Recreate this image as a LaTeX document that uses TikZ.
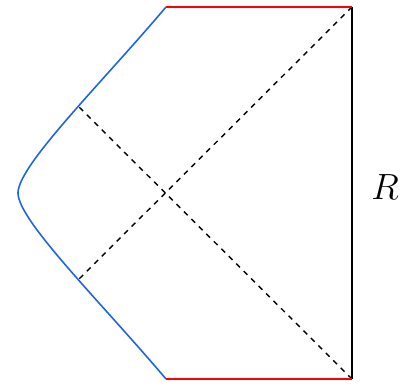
\documentclass[tikz,border=0pt]{standalone}
\usepackage{amsmath, amssymb}
\usepackage{tikz}
\usetikzlibrary{arrows.meta}

\definecolor{wallblue}{RGB}{30,100,230}

\begin{document}
\begin{tikzpicture}[
  scale=1.0,
  bdry/.style={draw, black, line width=0.9pt},
  sing/.style={draw, red, line width=0.9pt},
  wall/.style={draw, wallblue, line width=0.9pt},
  hor/.style={draw, black, dashed, line width=0.8pt}
]
  \useasboundingbox (-3.32,-3.82) rectangle (4.94,3.86);
  \coordinate (o) at (0,0);
  % corners of the diagram
  \coordinate (TL) at (0,3.72);
  \coordinate (TR) at (3.72,3.72);
  \coordinate (BR) at (3.72,-3.72);
  \coordinate (BL) at (0,-3.72);
  \coordinate (W) at (-2.96,0);
  % where the horizons meet the wall
  \coordinate (hu) at (-1.74,1.72);
  \coordinate (hd) at (-1.74,-1.72);
  \draw[bdry] (TR) -- (BR);
  \draw[wall] (TL) .. controls (-1.32,2.16) and (-2.96,0.55) .. (W)
                   .. controls (-2.96,-0.55) and (-1.32,-2.16) .. (BL);
  \draw[hor] (TR) -- (hd);
  \draw[hor] (BR) -- (hu);
  \draw[sing] (TL) -- (TR);
  \draw[sing] (BL) -- (BR);
  \node[font=\huge] (R) at (4.38,0.12) {$R$};
\end{tikzpicture}
\end{document}
